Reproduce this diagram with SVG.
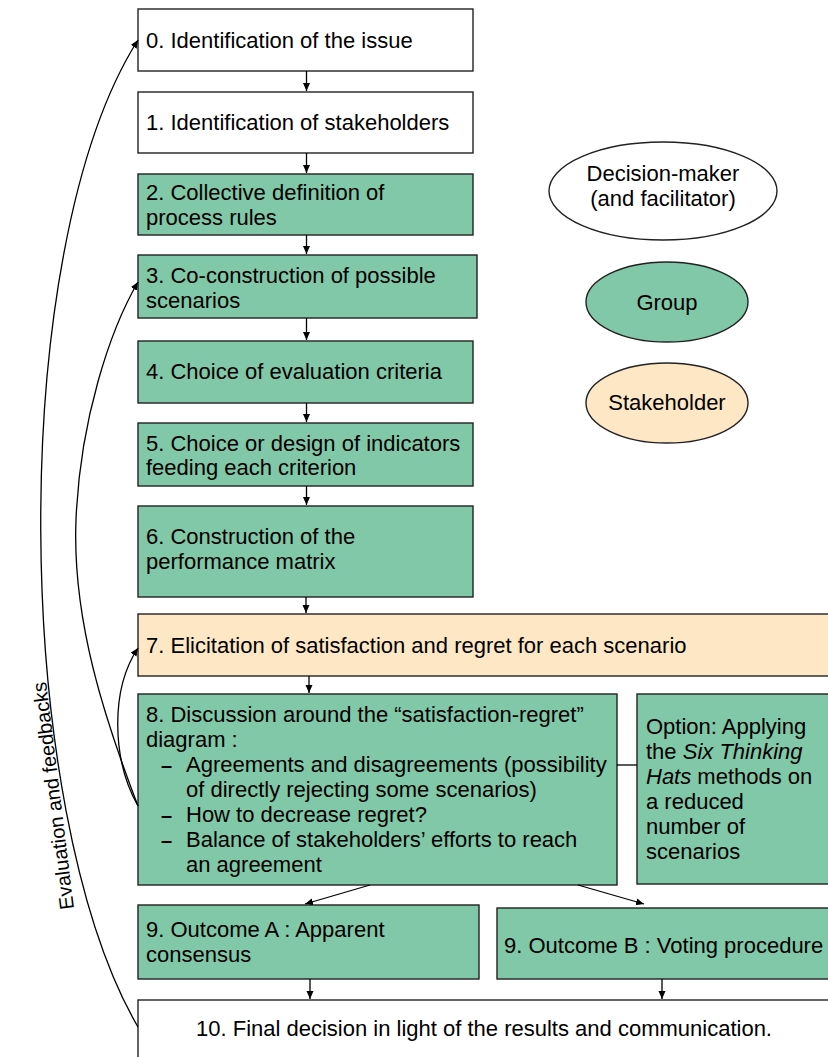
<svg xmlns="http://www.w3.org/2000/svg" width="828" height="1057" viewBox="0 0 828 1057">
<style>
  .box { stroke: #222; stroke-width: 1.4; }
  .white { fill: #ffffff; }
  .green { fill: #80C8A8; }
  .peach { fill: #FDE7C4; }
  text { font-family: "Liberation Sans", Arial, sans-serif; font-size: 22px; fill: #000; }
  .c { text-anchor: middle; }
  .dash { font-weight: bold; font-size: 20px; }
  .conn { stroke: #000; stroke-width: 1.3; fill: none; }
  .arr { marker-end: url(#ah); }
</style>
<defs>
  <marker id="ah" markerUnits="userSpaceOnUse" markerWidth="9" markerHeight="8" refX="8" refY="3.5" orient="auto">
    <path d="M0,0 L8,3.5 L0,7 z" fill="#000"/>
  </marker>
</defs>
<rect width="828" height="1057" fill="#fff"/>

<g id="node0"><rect class="box white" x="138" y="9" width="335" height="62"/><text x="146" y="48">0. Identification of the issue</text></g>
<g id="node1"><rect class="box white" x="138" y="92" width="335" height="61"/><text x="146" y="130">1. Identification of stakeholders</text></g>
<g id="node2"><rect class="box green" x="138" y="174" width="335" height="61"/><text x="146" y="200">2. Collective definition of</text><text x="146" y="225">process rules</text></g>
<g id="node3"><rect class="box green" x="138" y="255" width="339" height="63"/><text x="146" y="283">3. Co-construction of possible</text><text x="146" y="308">scenarios</text></g>
<g id="node4"><rect class="box green" x="138" y="341" width="335" height="62"/><text x="146" y="379">4. Choice of evaluation criteria</text></g>
<g id="node5"><rect class="box green" x="138" y="423" width="335" height="63"/><text x="146" y="451">5. Choice or design of indicators</text><text x="146" y="475">feeding each criterion</text></g>
<g id="node6"><rect class="box green" x="138" y="506" width="335" height="91"/><text x="146" y="544">6. Construction of the</text><text x="146" y="569">performance matrix</text></g>
<g id="node7"><rect class="box peach" x="138" y="614" width="700" height="62"/><text x="146" y="653">7. Elicitation of satisfaction and regret for each scenario</text></g>
<g id="node8"><rect class="box green" x="138" y="694" width="479" height="191"/>
  <text x="146" y="722">8. Discussion around the “satisfaction-regret”</text>
  <text x="146" y="747">diagram :</text>
  <text class="dash" x="161" y="772">–</text><text x="186" y="772">Agreements and disagreements (possibility</text>
  <text x="186" y="797">of directly rejecting some scenarios)</text>
  <text class="dash" x="161" y="822">–</text><text x="186" y="822">How to decrease regret?</text>
  <text class="dash" x="161" y="847">–</text><text x="186" y="847">Balance of stakeholders’ efforts to reach</text>
  <text x="186" y="872">an agreement</text>
</g>
<g id="option"><rect class="box green" x="637" y="694" width="200" height="190"/>
  <text x="646" y="734">Option: Applying</text>
  <text x="646" y="759">the <tspan font-style="italic">Six Thinking</tspan></text>
  <text x="646" y="784"><tspan font-style="italic">Hats</tspan> methods on</text>
  <text x="646" y="809">a reduced</text>
  <text x="646" y="834">number of</text>
  <text x="646" y="859">scenarios</text>
</g>
<g id="node9a"><rect class="box green" x="138" y="905" width="341" height="74"/><text x="146" y="937">9. Outcome A : Apparent</text><text x="146" y="962">consensus</text></g>
<g id="node9b"><rect class="box green" x="497" y="908" width="340" height="71"/><text x="504" y="953">9. Outcome B : Voting procedure</text></g>
<g id="node10"><rect class="box white" x="138" y="1000" width="700" height="70"/><text x="196" y="1036">10. Final decision in light of the results and communication.</text></g>

<g id="legend">
  <g id="legend-dm"><ellipse class="box white" cx="663" cy="191" rx="114" ry="49"/><text class="c" x="663" y="181">Decision-maker</text><text class="c" x="663" y="206">(and facilitator)</text></g>
  <g id="legend-group"><ellipse class="box green" cx="667" cy="302" rx="81" ry="40"/><text class="c" x="667" y="310">Group</text></g>
  <g id="legend-stake"><ellipse class="box peach" cx="667" cy="403" rx="81" ry="40"/><text class="c" x="667" y="410">Stakeholder</text></g>
</g>

<g id="connectors">
  <line class="conn arr" x1="306.5" y1="71" x2="306.5" y2="91"/>
  <line class="conn arr" x1="306.5" y1="153" x2="306.5" y2="173"/>
  <line class="conn arr" x1="306.5" y1="235" x2="306.5" y2="254"/>
  <line class="conn arr" x1="306.5" y1="318" x2="306.5" y2="340"/>
  <line class="conn arr" x1="306.5" y1="403" x2="306.5" y2="422"/>
  <line class="conn arr" x1="306.5" y1="486" x2="306.5" y2="505"/>
  <line class="conn arr" x1="306" y1="597" x2="306" y2="613"/>
  <line class="conn arr" x1="309" y1="676" x2="309" y2="693"/>
  <line class="conn arr" x1="370" y1="885" x2="305" y2="904"/>
  <line class="conn arr" x1="578" y1="885" x2="644" y2="904"/>
  <line class="conn arr" x1="310" y1="979" x2="310" y2="999"/>
  <line class="conn arr" x1="662" y1="979" x2="662" y2="999"/>
  <line class="conn" x1="617" y1="765" x2="637" y2="765"/>
  <path class="conn arr" d="M138,1027 C12,810 4.7,250 138,40"/>
  <path class="conn arr" d="M138,806 C105,720 72,620 76,520 C80,420 110,330 138,282"/>
  <path class="conn arr" d="M138,806 C112,760 110,690 138,648"/>
  <text class="c" style="font-size:20px" transform="translate(60,795) rotate(-97)">Evaluation and feedbacks</text>
</g>
</svg>
